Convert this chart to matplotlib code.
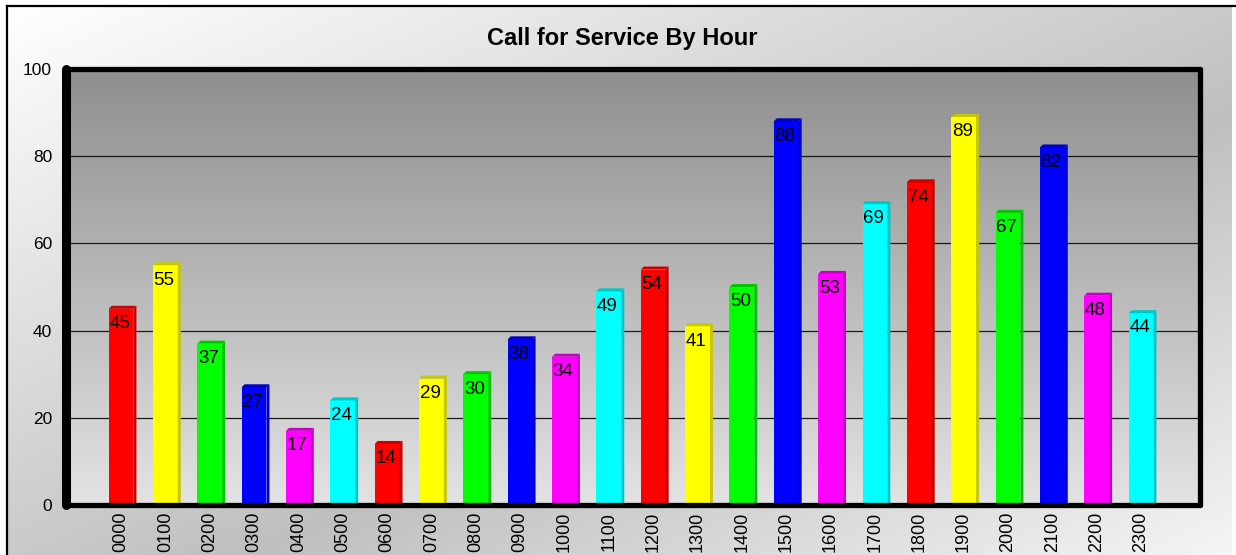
import numpy as np
import matplotlib
matplotlib.use("Agg")
import matplotlib.pyplot as plt
from matplotlib.patches import Polygon
from matplotlib.colors import to_rgb

plt.rcParams['font.family'] = ['Liberation Sans', 'DejaVu Sans']

# data
hours = ['0000', '0100', '0200', '0300', '0400', '0500', '0600', '0700',
         '0800', '0900', '1000', '1100', '1200', '1300', '1400', '1500',
         '1600', '1700', '1800', '1900', '2000', '2100', '2200', '2300']
calls = [45, 55, 37, 27, 17, 24, 14, 29, 30, 38, 34, 49,
         54, 41, 50, 88, 53, 69, 74, 89, 67, 82, 48, 44]
palette = ['#ff0000', '#ffff00', '#00ff00', '#0000ff', '#ff00ff', '#00ffff']
title = 'Call for Service By Hour'

W, H = 1236, 555
fig = plt.figure(figsize=(W / 100, H / 100), dpi=100)
fig.patch.set_facecolor('white')

# background panel with diagonal gradient
bg = fig.add_axes([0, 0, 1, 1])
bg.axis('off')
u, v = np.meshgrid(np.linspace(0, 1, 300), np.linspace(0, 1, 150))
t = (u + v) / 2
shade = np.where(t < 0.6, 1 - 0.25 * t / 0.6, 0.75 + 0.21 * (t - 0.6) / 0.4)
bg.imshow(np.dstack([shade] * 3), extent=(7, 1232, H, 6), aspect='auto',
          interpolation='bilinear', zorder=0)
bg.plot([7, W], [6, 6], color='black', lw=1.6, zorder=2)
bg.plot([7, 7], [6, H], color='black', lw=1.6, zorder=2)
bg.set_xlim(0, W)
bg.set_ylim(H, 0)

# main plot area, dark at the top and light at the bottom
ax = fig.add_axes([66 / W, 1 - 505 / H, (1200 - 66) / W, (505 - 69) / H])
grad = np.linspace(0.56, 0.89, 200).reshape(-1, 1)
ax.imshow(np.dstack([grad] * 3), extent=(0, 1, 0, 1), origin='upper',
          transform=ax.transAxes, aspect='auto', interpolation='bilinear',
          zorder=0)

x = np.arange(len(hours))
w = 0.56
dx, dy = 0.068, 0.69
colors = [palette[i % len(palette)] for i in range(len(hours))]

ax.bar(x, calls, w, color=colors, zorder=3)
for xi, val, c in zip(x, calls, colors):
    dark = tuple(ch * 0.78 for ch in to_rgb(c))
    x0, x1 = xi - w / 2, xi + w / 2
    side = Polygon([(x1, 0), (x1 + dx, 0), (x1 + dx, val + dy), (x1, val)],
                   closed=True, facecolor=dark, edgecolor='none', zorder=3)
    top = Polygon([(x0, val), (x0 + dx, val + dy), (x1 + dx, val + dy), (x1, val)],
                  closed=True, facecolor=dark, edgecolor='none', zorder=3)
    ax.add_patch(side)
    ax.add_patch(top)
    ax.text(xi - 0.03, val - 3.4, str(val), ha='center', va='center',
            fontsize=13.5, color='black', zorder=4)

ax.set_xlim(-1.24, 24.33)
ax.set_ylim(0, 100)
ax.set_yticks(range(0, 101, 20))
ax.yaxis.grid(True, color='#1a1a1a', lw=0.9, zorder=1)
ax.set_axisbelow(False)
ax.set_xticks(x)
ax.set_xticklabels(hours, rotation=90, fontsize=13)
ax.tick_params(axis='x', length=0, pad=5)
ax.tick_params(axis='y', length=0, pad=10, labelsize=12.5)
for name, sp in ax.spines.items():
    sp.set_color('black')
    sp.set_linewidth(6.5 if name == 'left' else 3.8)
    sp.set_capstyle('round')
    sp.set_zorder(5)

fig.text(622 / W, 1 - 38 / H, title, ha='center', va='center',
         fontsize=17, fontweight='bold')

fig.savefig('out.png', dpi=100)
